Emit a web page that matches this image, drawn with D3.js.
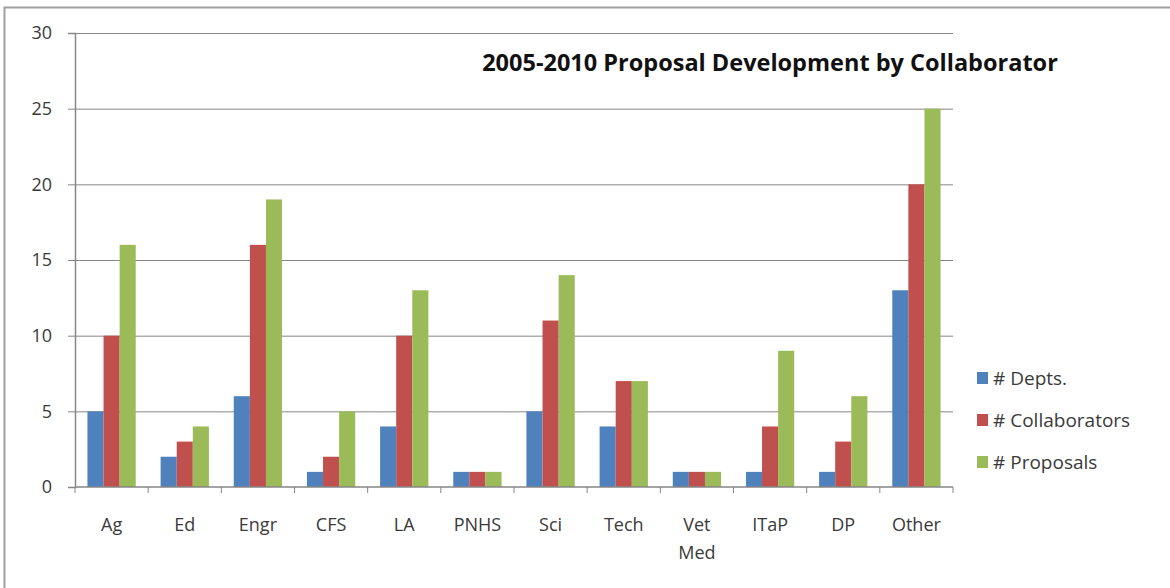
<!DOCTYPE html>
<html>
<head>
<meta charset="utf-8">
<script src="https://cdn.jsdelivr.net/npm/d3@7"></script>
<style>
  body { margin: 0; background: #fff; }
  svg text { font-family: "Open Sans", "Noto Sans", sans-serif; fill: #3a3a3a; }
  .axis path, .axis line { stroke: #868686; }
  .grid line { stroke: #868686; }
  .grid path { stroke: none; }
</style>
</head>
<body>
<div id="chart"></div>
<script>
// Data
var categories = ["Ag", "Ed", "Engr", "CFS", "LA", "PNHS", "Sci", "Tech", "Vet Med", "ITaP", "DP", "Other"];
var depts = [5, 2, 6, 1, 4, 1, 5, 4, 1, 1, 1, 13];
var collaborators = [10, 3, 16, 2, 10, 1, 11, 7, 1, 4, 3, 20];
var proposals = [16, 4, 19, 5, 13, 1, 14, 7, 1, 9, 6, 25];
var seriesNames = ["# Depts.", "# Collaborators", "# Proposals"];
var colors = ["#4F81BD", "#C0504D", "#9BBB59"];
var yTicks = [0, 5, 10, 15, 20, 25, 30];

var render = function() {
  var width = 1170;
  var height = 588;
  var margins = { top: 33, right: 217, bottom: 101, left: 75 };
  var chartWidth = width - margins.left - margins.right;
  var chartHeight = height - margins.top - margins.bottom;

  var svg = d3.select("#chart")
    .append("svg")
    .attr("width", width)
    .attr("height", height);

  // outer frame (only top and left edges show)
  svg.append("path")
    .attr("d", "M4.5,588 V7.5 H1170")
    .attr("fill", "none")
    .attr("stroke", "#a0a0a0")
    .attr("stroke-width", 2);

  var chartElement = svg.append("g")
    .attr("transform", `translate(${margins.left},${margins.top})`);

  var xScale = d3.scaleBand()
    .domain(categories)
    .range([0, chartWidth])
    .paddingInner(0.34)
    .paddingOuter(0.17);

  var xBand = d3.scaleBand()
    .domain([0, 1, 2])
    .range([0, xScale.bandwidth()]);

  var yScale = d3.scaleLinear()
    .domain([0, 30])
    .range([chartHeight, 0]);

  // grid
  chartElement.append("g")
    .attr("class", "grid")
    .call(d3.axisLeft(yScale).tickValues(yTicks.slice(1)).tickSize(-chartWidth).tickFormat(""));

  // bars
  var series = [depts, collaborators, proposals];
  series.forEach(function(values, s) {
    chartElement.append("g")
      .selectAll("rect")
      .data(values)
      .enter()
      .append("rect")
      .attr("x", (d, i) => xScale(categories[i]) + xBand(s))
      .attr("y", d => yScale(d))
      .attr("width", xBand.bandwidth())
      .attr("height", d => chartHeight - yScale(d))
      .attr("fill", colors[s]);
  });

  // y axis
  var yAxis = chartElement.append("g")
    .attr("class", "axis y")
    .call(d3.axisLeft(yScale).tickValues(yTicks).tickSizeOuter(0).tickSize(7).tickPadding(16));
  yAxis.select(".domain").attr("stroke-width", 1.5);
  yAxis.selectAll("text").style("font-size", "18px");

  // x axis with boundary ticks
  var xAxisG = chartElement.append("g")
    .attr("class", "axis x")
    .attr("transform", `translate(0,${chartHeight})`);
  xAxisG.append("line")
    .attr("x1", 0).attr("x2", chartWidth)
    .attr("stroke", "#868686").attr("stroke-width", 1.5);
  var step = xScale.step();
  xAxisG.selectAll(".bt")
    .data(d3.range(categories.length + 1))
    .enter()
    .append("line")
    .attr("x1", i => i * step)
    .attr("x2", i => i * step)
    .attr("y1", 0).attr("y2", 6)
    .attr("stroke", "#868686");

  xAxisG.selectAll(".lbl")
    .data(categories)
    .enter()
    .append("text")
    .attr("text-anchor", "middle")
    .attr("x", d => xScale(d) + xScale.bandwidth() / 2)
    .style("font-size", "18px")
    .each(function(d) {
      var words = d.split(" ");
      var t = d3.select(this);
      words.forEach(function(w, k) {
        t.append("tspan")
          .attr("x", xScale(d) + xScale.bandwidth() / 2)
          .attr("y", 44 + k * 28)
          .text(w);
      });
    });

  // title
  svg.append("text")
    .attr("x", 770)
    .attr("y", 71)
    .attr("text-anchor", "middle")
    .style("font-size", "23.5px")
    .style("font-weight", "bold")
    .style("fill", "#111")
    .text("2005-2010 Proposal Development by Collaborator");

  // legend
  var legend = svg.append("g")
    .attr("transform", "translate(977,378)");
  seriesNames.forEach(function(name, i) {
    var g = legend.append("g").attr("transform", `translate(0,${i * 42})`);
    g.append("rect")
      .attr("x", 0).attr("y", -6)
      .attr("width", 11).attr("height", 12)
      .attr("fill", colors[i]);
    g.append("text")
      .attr("x", 16)
      .attr("y", 7)
      .style("font-size", "19px")
      .text(name);
  });
};

render();
</script>
</body>
</html>
